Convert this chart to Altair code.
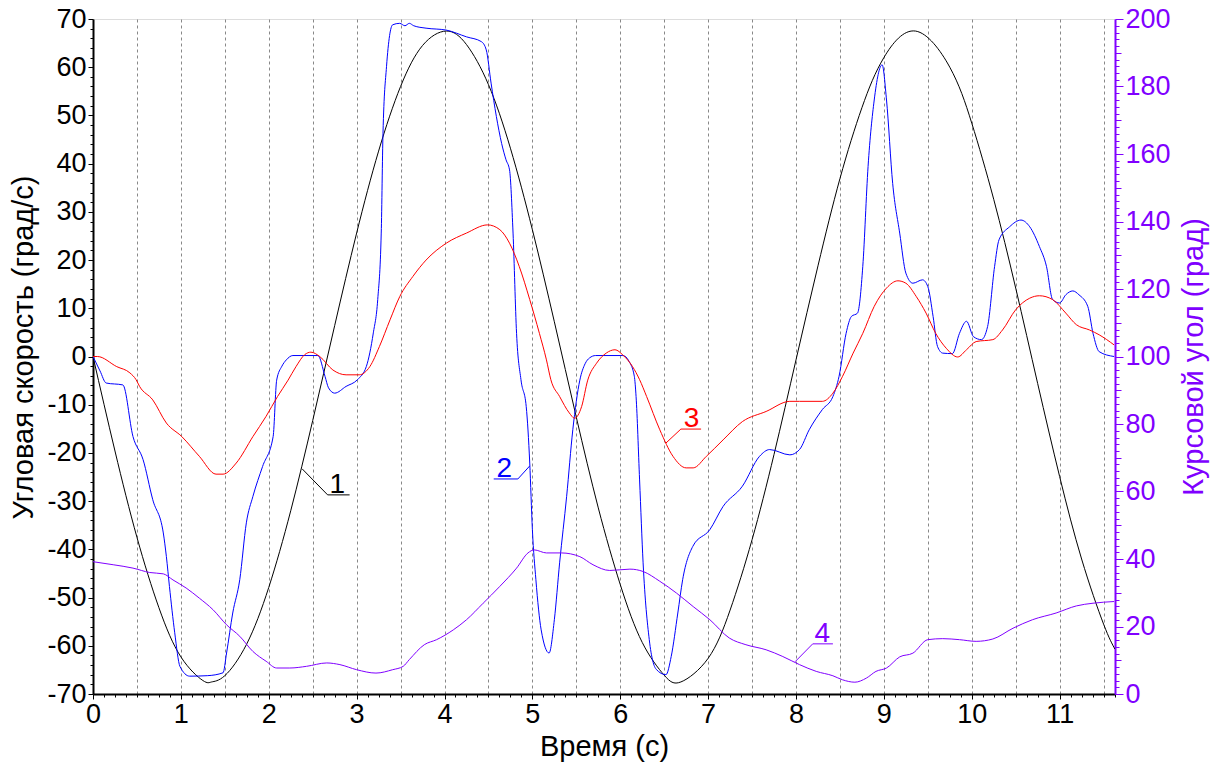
import altair as alt
import pandas as pd

# ---------------- data ----------------
# Series 1 (black)  time [s] / angular speed [deg/s]
black_t = [0, 0.25, 0.5, 0.75, 1.0, 1.25, 1.35, 1.5, 1.75, 2.0, 2.25, 2.5, 2.75, 3.0, 3.25, 3.5, 3.75,
           4.02, 4.25, 4.5, 4.75, 5.0, 5.25, 5.5, 5.75, 6.0, 6.25, 6.5, 6.69, 7.0, 7.25, 7.5, 7.75,
           8.0, 8.25, 8.5, 8.75, 9.0, 9.36, 9.75, 10.0, 10.25, 10.5, 10.75, 11.0, 11.25, 11.5, 11.63]
black_v = [0, -19.6, -37.5, -52.1, -62.3, -67.2, -67.5, -66.2, -59.6, -47.9, -32.0, -13.3, 6.4, 25.6, 42.6, 56.0, 64.5,
           67.5, 64.7, 56.4, 43.2, 26.3, 7.2, -12.6, -31.4, -47.3, -59.3, -66.1, -67.5, -62.6, -52.6, -38.0, -20.3,
           -0.7, 18.8, 36.9, 51.6, 62.0, 67.5, 60.0, 48.4, 32.6, 14.2, -5.6, -24.9, -42.0, -55.5, -60.7]

# Series 2 (blue)
blue_t = [0, 0.08, 0.15, 0.34, 0.455, 0.57, 0.68, 0.80, 0.835, 0.87, 0.93, 0.99, 1.10, 1.30, 1.48, 1.52,
          1.59, 1.67, 1.745, 1.82, 1.93, 2.05, 2.09, 2.15, 2.2, 2.275, 2.56, 2.64, 2.68, 2.75, 2.88, 3.01,
          3.11, 3.19, 3.24, 3.28, 3.30, 3.34, 3.41, 3.49, 3.55, 3.60, 3.65, 3.79, 4.02, 4.25, 4.42, 4.475,
          4.53, 4.59, 4.65, 4.70, 4.74, 4.78, 4.82, 4.87, 4.93, 4.97, 5.0, 5.04, 5.10, 5.19, 5.25, 5.31,
          5.39, 5.46, 5.54, 5.60, 5.65, 5.72, 6.03, 6.10, 6.16, 6.18, 6.22, 6.26, 6.33, 6.41, 6.52, 6.58,
          6.655, 6.71, 6.825, 7.02, 7.17, 7.39, 7.585, 7.70, 7.93, 8.04, 8.15, 8.3, 8.42, 8.49, 8.57, 8.63,
          8.70, 8.76, 8.82, 8.89, 8.98, 9.03, 9.10, 9.18, 9.25, 9.33, 9.44, 9.50, 9.56, 9.61, 9.67, 9.78,
          9.86, 9.94, 10.02, 10.11, 10.18, 10.26, 10.31, 10.43, 10.56, 10.66, 10.77, 10.85, 10.92, 11.0,
          11.07, 11.15, 11.22, 11.32, 11.38, 11.45, 11.62]
blue_v = [0, -3, -5.5, -5.9, -16.6, -21.4, -29.7, -36.6, -41.5, -47.7, -57.3, -64.3, -66.3, -66.2, -65.6, -61.5,
          -53.2, -46.3, -34.5, -29.0, -22.8, -16.6, -4.9, -2.0, -0.7, 0.2, 0.2, -4.1, -6.5, -7.6, -6.2, -4.8,
          -2.1, 4.9, 11.8, 25.6, 46.3, 60.1, 68.8, 69.1, 68.6, 69.1, 68.6, 68.1, 67.7, 66.3, 65.3, 63.6,
          56.7, 49.8, 44.2, 40.8, 38.7, 25.6, 4.8, -4.8, -10.4, -22.1, -35.9, -46.3, -56.7, -61.5, -54.6, -42.8,
          -29.0, -15.2, -4.9, -1.5, -0.3, 0.2, 0.2, -1.0, -4.1, -8.3, -25.6, -42.8, -58.7, -64.9, -66.0, -62.2,
          -53.2, -46.3, -39.4, -35.9, -31.1, -26.9, -20.7, -19.3, -20.4, -19.3, -15.2, -11.0, -8.3, -4.1, 4.8, 8.3,
          9.0, 18.7, 39.4, 53.2, 60.5, 53.2, 35.9, 25.6, 17.3, 15.2, 15.9, 14.5, 8.3, 2.1, 0.7, 0.6,
          4.8, 7.3, 4.1, 3.5, 6.2, 18.7, 24.2, 26.9, 28.3, 26.9, 22.8, 18.7, 11.8, 11.1,
          12.8, 13.6, 12.8, 10.4, 4.8, 1.0, 0]

# Series 3 (red)
red_t = [0, 0.05, 0.27, 0.42, 0.49, 0.53, 0.68, 0.835, 1.01, 1.21, 1.40, 1.48, 1.63, 1.82, 1.97, 2.10,
         2.22, 2.31, 2.41, 2.48, 2.58, 2.73, 2.88, 3.03, 3.15, 3.26, 3.38, 3.49, 3.64, 3.79, 4.02, 4.25,
         4.49, 4.63, 4.74, 4.85, 4.97, 5.08, 5.16, 5.21, 5.31, 5.42, 5.48, 5.56, 5.63, 5.73, 5.84, 5.94,
         6.03, 6.14, 6.22, 6.30, 6.45, 6.60, 6.75, 6.83, 6.98, 7.17, 7.39, 7.66, 7.93, 8.04, 8.30, 8.42,
         8.53, 8.65, 8.76, 8.89, 9.03, 9.16, 9.25, 9.37, 9.48, 9.59, 9.71, 9.84, 9.94, 10.05, 10.24, 10.35,
         10.50, 10.66, 10.77, 10.92, 11.07, 11.19, 11.34, 11.45, 11.62]
red_v = [0, 0, -2.1, -3.4, -4.8, -6.2, -9.0, -13.8, -16.6, -20.7, -24.4, -24.4, -22.1, -16.6, -12.4, -8.3,
         -4.9, -2.1, 0.4, 0.9, 0, -2.8, -3.8, -3.8, -2.1, 2.1, 7.6, 12.4, 16.6, 20.0, 23.5, 25.6,
         27.3, 26.3, 23.5, 18.7, 11.8, 4.8, -0.7, -4.8, -8.3, -11.7, -12.8, -10.4, -4.9, -1.4, 0.7, 1.4,
         0.3, -2.1, -4.8, -8.3, -15.2, -20.7, -23.1, -23.1, -20.7, -17.3, -13.5, -11.4, -9.3, -9.3, -9.3, -7.6,
         -4.1, 0.7, 4.8, 10.4, 14.2, 15.7, 15.2, 12.4, 9.0, 4.8, 1.7, -0.1, 1.4, 3.1, 3.5, 5.5,
         9.7, 12.1, 12.6, 11.8, 9.0, 6.6, 5.5, 4.5, 2.4]

# Series 4 (purple) time [s] / heading angle [deg], right axis
purple_t = [0, 0.23, 0.455, 0.645, 0.80, 0.91, 1.06, 1.21, 1.365, 1.52, 1.67, 1.82, 1.97, 2.09, 2.24, 2.43,
            2.66, 2.81, 3.0, 3.22, 3.41, 3.53, 3.60, 3.77, 3.91, 4.10, 4.25, 4.44, 4.63, 4.82, 4.95, 5.02,
            5.16, 5.33, 5.54, 5.69, 5.88, 6.11, 6.26, 6.45, 6.64, 6.83, 7.02, 7.24, 7.43, 7.66, 7.85, 8.04,
            8.23, 8.42, 8.53, 8.67, 8.80, 8.91, 9.03, 9.18, 9.33, 9.50, 9.67, 9.86, 10.05, 10.24, 10.47, 10.69,
            10.96, 11.19, 11.38, 11.62]
purple_w = [39.2, 38.3, 37.3, 36.0, 35.6, 33.8, 31.4, 28.4, 25.0, 20.5, 17.1, 12.6, 9.7, 7.7, 7.7, 8.2,
            9.2, 8.7, 7.2, 6.2, 7.2, 8.2, 10.2, 14.6, 16.1, 19.0, 22.0, 26.9, 31.9, 37.3, 41.8, 42.7,
            41.8, 41.8, 40.7, 38.3, 36.6, 37.0, 36.3, 33.4, 29.9, 25.9, 22.0, 16.6, 14.6, 13.1, 11.1, 8.7,
            6.7, 5.4, 4.2, 3.5, 4.7, 6.7, 7.7, 11.0, 12.1, 16.1, 16.4, 16.1, 15.6, 16.3, 19.5, 22.0,
            24.0, 26.1, 26.9, 27.4]

# Curve labels (in left-axis units): text, text x, underline x-range and y, leader end point
lab_text = ["1", "2", "3", "4"]
lab_x = [2.78, 4.68, 6.81, 8.30]
ul_x1 = [2.67, 4.56, 6.69, 8.19]
ul_x2 = [2.92, 4.835, 6.92, 8.42]
ul_y = [-28.7, -25.4, -15.05, -59.6]
lead_from = [2.67, 4.835, 6.69, 8.19]
lead_x = [2.38, 4.97, 6.52, 7.99]
lead_y = [-23.3, -22.7, -17.95, -63.3]

# tick positions / labels
x_tick_values = [i * 0.125 for i in range(94)]
left_tick_values = list(range(-70, 71, 2))
right_tick_values = list(range(0, 201, 2))

# ---------------- styling ----------------
BLACK, BLUE, RED, PURPLE = "#000000", "#0000FF", "#FF0000", "#8000FF"
FONT = "Liberation Sans"
X_MAX = 11.63

df_black = pd.DataFrame({"t": black_t, "v": black_v})
df_left = pd.concat([
    pd.DataFrame({"t": blue_t, "v": blue_v, "c": BLUE}),
    pd.DataFrame({"t": red_t, "v": red_v, "c": RED}),
], ignore_index=True)
df_right = pd.DataFrame({"t": purple_t, "w": purple_w})

lab_colors = [BLACK, BLUE, RED, PURPLE]
df_text = pd.DataFrame({"t": lab_x, "v": ul_y, "txt": lab_text, "c": lab_colors})
seg_rows = []
for i in range(4):
    seg_rows.append({"x1": ul_x1[i], "x2": ul_x2[i], "y1": ul_y[i], "y2": ul_y[i], "c": lab_colors[i]})
    seg_rows.append({"x1": lead_from[i], "x2": lead_x[i], "y1": ul_y[i], "y2": lead_y[i], "c": lab_colors[i]})
df_seg = pd.DataFrame(seg_rows)

x_scale = alt.Scale(domain=[0, X_MAX], nice=False, zero=False)
yl_scale = alt.Scale(domain=[-70, 70], nice=False, zero=False)
yr_scale = alt.Scale(domain=[0, 200], nice=False, zero=False)

x_axis = alt.Axis(
    values=x_tick_values,
    labelExpr="datum.value % 1 === 0 ? toString(datum.value) : ''",
    labelOverlap=False, labelFlush=False,
    labelFont=FONT, labelFontSize=27, labelColor=BLACK, labelPadding=2,
    domainColor=BLACK, domainWidth=2, tickColor=BLACK, tickWidth=1,
    tickSize={"condition": {"test": "datum.value % 1 === 0", "value": 5}, "value": 3},
    grid=True, gridColor="#888888", gridDash=[3, 3], gridWidth=1,
    gridOpacity={"condition": {"test": "datum.value % 0.5 === 0 && datum.value > 0", "value": 1}, "value": 0},
    title="Время (с)", titleFont=FONT, titleFontSize=29, titleFontWeight="normal", titleColor=BLACK,
    titleBaseline="alphabetic", titleY=61,
)
yl_axis = alt.Axis(
    values=left_tick_values,
    labelExpr="datum.value % 10 === 0 ? toString(datum.value) : ''",
    labelOverlap=False, labelFont=FONT, labelFontSize=27, labelColor=BLACK, labelPadding=2,
    domainColor=BLACK, domainWidth=2, tickColor=BLACK, tickWidth=1,
    tickSize={"condition": {"test": "datum.value % 10 === 0", "value": 5}, "value": 3},
    grid=False,
    title="Угловая скорость (град/с)", titleFont=FONT, titleFontSize=29, titleFontWeight="normal",
    titleColor=BLACK, titleAngle=270, titleAlign="center", titleBaseline="middle", titleX=-70, titleY=328,
)
yr_axis = alt.Axis(
    orient="right",
    values=right_tick_values,
    labelExpr="datum.value % 20 === 0 ? toString(datum.value) : ''",
    labelOverlap=False, labelFont=FONT, labelFontSize=27, labelColor=PURPLE, labelPadding=2,
    domainColor=PURPLE, domainWidth=2, tickColor=PURPLE, tickWidth=1,
    tickSize={"condition": [{"test": "datum.value % 20 === 0", "value": 8},
                            {"test": "datum.value % 10 === 0", "value": 6}], "value": 4},
    grid=False,
    title="Курсовой угол (град)", titleFont=FONT, titleFontSize=29, titleFontWeight="normal",
    titleColor=PURPLE, titleAngle=270, titleAlign="center", titleBaseline="middle", titleX=78,
)

x_enc = alt.X("t:Q", scale=x_scale, axis=x_axis)
yl_enc = alt.Y("v:Q", scale=yl_scale, axis=yl_axis)

black_line = alt.Chart(df_black).mark_line(
    strokeWidth=1, interpolate="natural", clip=True, color=BLACK
).encode(x=x_enc, y=yl_enc)

lines = alt.Chart(df_left).mark_line(strokeWidth=1, interpolate="monotone", clip=True).encode(
    x=x_enc,
    y=yl_enc,
    color=alt.Color("c:N", scale=None),
)
texts = alt.Chart(df_text).mark_text(font=FONT, fontSize=28, align="center", baseline="alphabetic", dy=-2).encode(
    x=x_enc,
    y=yl_enc,
    text="txt:N",
    color=alt.Color("c:N", scale=None),
)
segs = alt.Chart(df_seg).mark_rule(strokeWidth=1).encode(
    x=alt.X("x1:Q", scale=x_scale, axis=x_axis),
    x2="x2:Q",
    y=alt.Y("y1:Q", scale=yl_scale, axis=yl_axis),
    y2="y2:Q",
    color=alt.Color("c:N", scale=None),
)
left = alt.layer(black_line, lines, segs, texts)

right = alt.Chart(df_right).mark_line(strokeWidth=1, interpolate="monotone", clip=True, color=PURPLE).encode(
    x=x_enc,
    y=alt.Y("w:Q", scale=yr_scale, axis=yr_axis),
)

chart = alt.layer(left, right).resolve_scale(y="independent").properties(
    width=1022, height=675,
    autosize=alt.AutoSizeParams(type="none"),
    padding={"left": 93, "top": 19, "right": 107, "bottom": 69},
    background="white",
).configure_view(stroke=BLACK, strokeWidth=1).configure(font=FONT)

chart.save("out.html", embed_options={"renderer": "svg", "actions": False})
